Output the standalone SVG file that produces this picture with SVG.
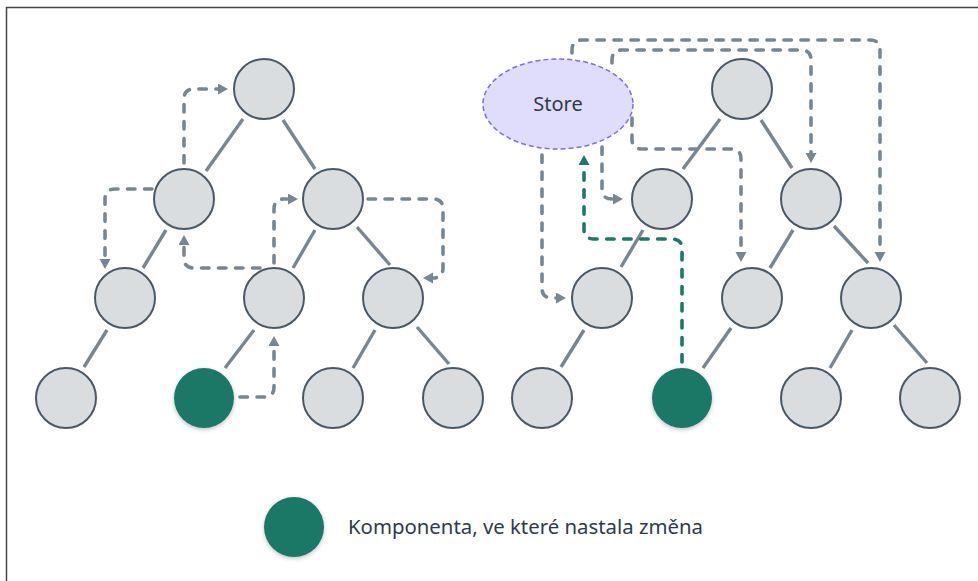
<svg xmlns="http://www.w3.org/2000/svg" width="978" height="581" viewBox="0 0 978 581">
  <defs>
    <marker id="arrowGray" markerUnits="userSpaceOnUse" markerWidth="12" markerHeight="12" refX="1" refY="5.5" orient="auto">
      <path d="M0,0 L10,5.5 L0,11 z" fill="#788691"/>
    </marker>
    <marker id="arrowGreen" markerUnits="userSpaceOnUse" markerWidth="12" markerHeight="12" refX="1" refY="5.5" orient="auto">
      <path d="M0,0 L10,5.5 L0,11 z" fill="#1f7866"/>
    </marker>
    <filter id="shadow" x="-30%" y="-30%" width="160%" height="160%">
      <feDropShadow dx="0" dy="1.5" stdDeviation="2" flood-color="#000" flood-opacity="0.25"/>
    </filter>
    <style>
      .node { fill: #d9dde0; stroke: #4a5866; stroke-width: 2; }
      .changed { fill: #1f7866; filter: url(#shadow); }
      .edge { stroke: #788691; stroke-width: 3.4; fill: none; }
      .flow { stroke: #788691; stroke-width: 3.6; fill: none; stroke-linecap: round; stroke-dasharray: 7.5 9.5; marker-end: url(#arrowGray); }
      .flow-green { stroke: #1f7866; stroke-width: 3.6; fill: none; stroke-linecap: round; stroke-dasharray: 7.5 9.5; marker-end: url(#arrowGreen); }
      .label { font-family: "Noto Sans", "DejaVu Sans", sans-serif; fill: #2e3a4a; }
    </style>
  </defs>

  <rect x="0" y="0" width="978" height="581" fill="#ffffff"/>
  <rect x="6.5" y="7.5" width="1000" height="600" fill="none" stroke="#444" stroke-width="1.5"/>

  <!-- tree edges -->
  <g id="edges">
    <!-- left tree -->
    <line class="edge" x1="243" y1="119" x2="206" y2="171"/>
    <line class="edge" x1="283" y1="120" x2="315" y2="169"/>
    <line class="edge" x1="166" y1="230" x2="143" y2="268"/>
    <line class="edge" x1="315" y1="230" x2="293" y2="268"/>
    <line class="edge" x1="357" y1="227" x2="390" y2="265"/>
    <line class="edge" x1="107" y1="330" x2="84" y2="367"/>
    <line class="edge" x1="254" y1="330" x2="225" y2="368"/>
    <line class="edge" x1="375" y1="330" x2="353" y2="368"/>
    <line class="edge" x1="417" y1="327" x2="449" y2="364"/>
    <!-- right tree -->
    <line class="edge" x1="720" y1="119" x2="683" y2="169"/>
    <line class="edge" x1="761" y1="120" x2="792" y2="168"/>
    <line class="edge" x1="643" y1="230" x2="621" y2="267"/>
    <line class="edge" x1="793" y1="230" x2="770" y2="268"/>
    <line class="edge" x1="834" y1="226" x2="868" y2="263"/>
    <line class="edge" x1="584" y1="330" x2="561" y2="367"/>
    <line class="edge" x1="731" y1="328" x2="703" y2="368"/>
    <line class="edge" x1="852" y1="330" x2="830" y2="368"/>
    <line class="edge" x1="894" y1="325" x2="927" y2="363"/>
  </g>

  <!-- update flow connectors -->
  <g id="connectors">
    <!-- left: prop drilling through the tree -->
    <path class="flow" d="M184,163 V99 Q184,89 194,89 H219"/>
    <path class="flow" d="M152,189 H115 Q105,189 105,199 V260"/>
    <path class="flow" d="M274,263 V209 Q274,199 284,199 H289"/>
    <path class="flow" d="M260,268 H194 Q184,268 184,258 V244"/>
    <path class="flow" d="M368,199 H433 Q443,199 443,209 V268 Q443,278 433,278 H432"/>
    <path class="flow" d="M240,397 H264 Q274,397 274,387 V345"/>
    <!-- right: store subscriptions -->
    <path class="flow" d="M572,53 V50 Q572,40 582,40 H870 Q880,40 880,50 V253"/>
    <path class="flow" d="M612,63 V60 Q612,50 622,50 H801 Q811,50 811,60 V154"/>
    <path class="flow" d="M632,118 V139 Q632,149 642,149 H731 Q741,149 741,159 V253"/>
    <path class="flow" d="M602,147 V189 Q602,199 612,199 H614"/>
    <path class="flow" d="M542,155 V288 Q542,298 552,298 H557"/>
    <path class="flow-green" d="M682,362 V249 Q682,239 672,239 H594 Q584,239 584,229 V164"/>
  </g>

  <!-- left tree nodes -->
  <g id="left-root"><circle class="node" cx="264" cy="89" r="30"/></g>
  <g id="left-a"><circle class="node" cx="184" cy="199" r="30"/></g>
  <g id="left-b"><circle class="node" cx="333" cy="199" r="30"/></g>
  <g id="left-aa"><circle class="node" cx="125" cy="298" r="30"/></g>
  <g id="left-ba"><circle class="node" cx="274" cy="298" r="30"/></g>
  <g id="left-bb"><circle class="node" cx="393" cy="298" r="30"/></g>
  <g id="left-aaa"><circle class="node" cx="66" cy="398" r="30"/></g>
  <g id="left-baa"><circle class="changed" cx="204" cy="398" r="30"/></g>
  <g id="left-bba"><circle class="node" cx="333" cy="398" r="30"/></g>
  <g id="left-bbb"><circle class="node" cx="453" cy="398" r="30"/></g>

  <!-- right tree nodes -->
  <g id="right-root"><circle class="node" cx="742" cy="89" r="30"/></g>
  <g id="right-a"><circle class="node" cx="662" cy="199" r="30"/></g>
  <g id="right-b"><circle class="node" cx="811" cy="199" r="30"/></g>
  <g id="right-aa"><circle class="node" cx="602" cy="298" r="30"/></g>
  <g id="right-ba"><circle class="node" cx="752" cy="298" r="30"/></g>
  <g id="right-bb"><circle class="node" cx="871" cy="298" r="30"/></g>
  <g id="right-aaa"><circle class="node" cx="542" cy="398" r="30"/></g>
  <g id="right-baa"><circle class="changed" cx="682" cy="398" r="30"/></g>
  <g id="right-bba"><circle class="node" cx="811" cy="398" r="30"/></g>
  <g id="right-bbb"><circle class="node" cx="930" cy="398" r="30"/></g>

  <!-- store -->
  <g id="store">
    <ellipse cx="558" cy="104" rx="75" ry="45" fill="#e0dcfc" stroke="#7b6cf0" stroke-width="1.5" stroke-dasharray="5 3"/>
    <text class="label" x="558" y="111" font-size="20" text-anchor="middle">Store</text>
  </g>

  <!-- legend -->
  <g id="legend">
    <circle class="changed" cx="294" cy="527" r="30"/>
    <text class="label" x="348" y="534" font-size="20" textLength="355" lengthAdjust="spacingAndGlyphs">Komponenta, ve které nastala změna</text>
  </g>
</svg>
